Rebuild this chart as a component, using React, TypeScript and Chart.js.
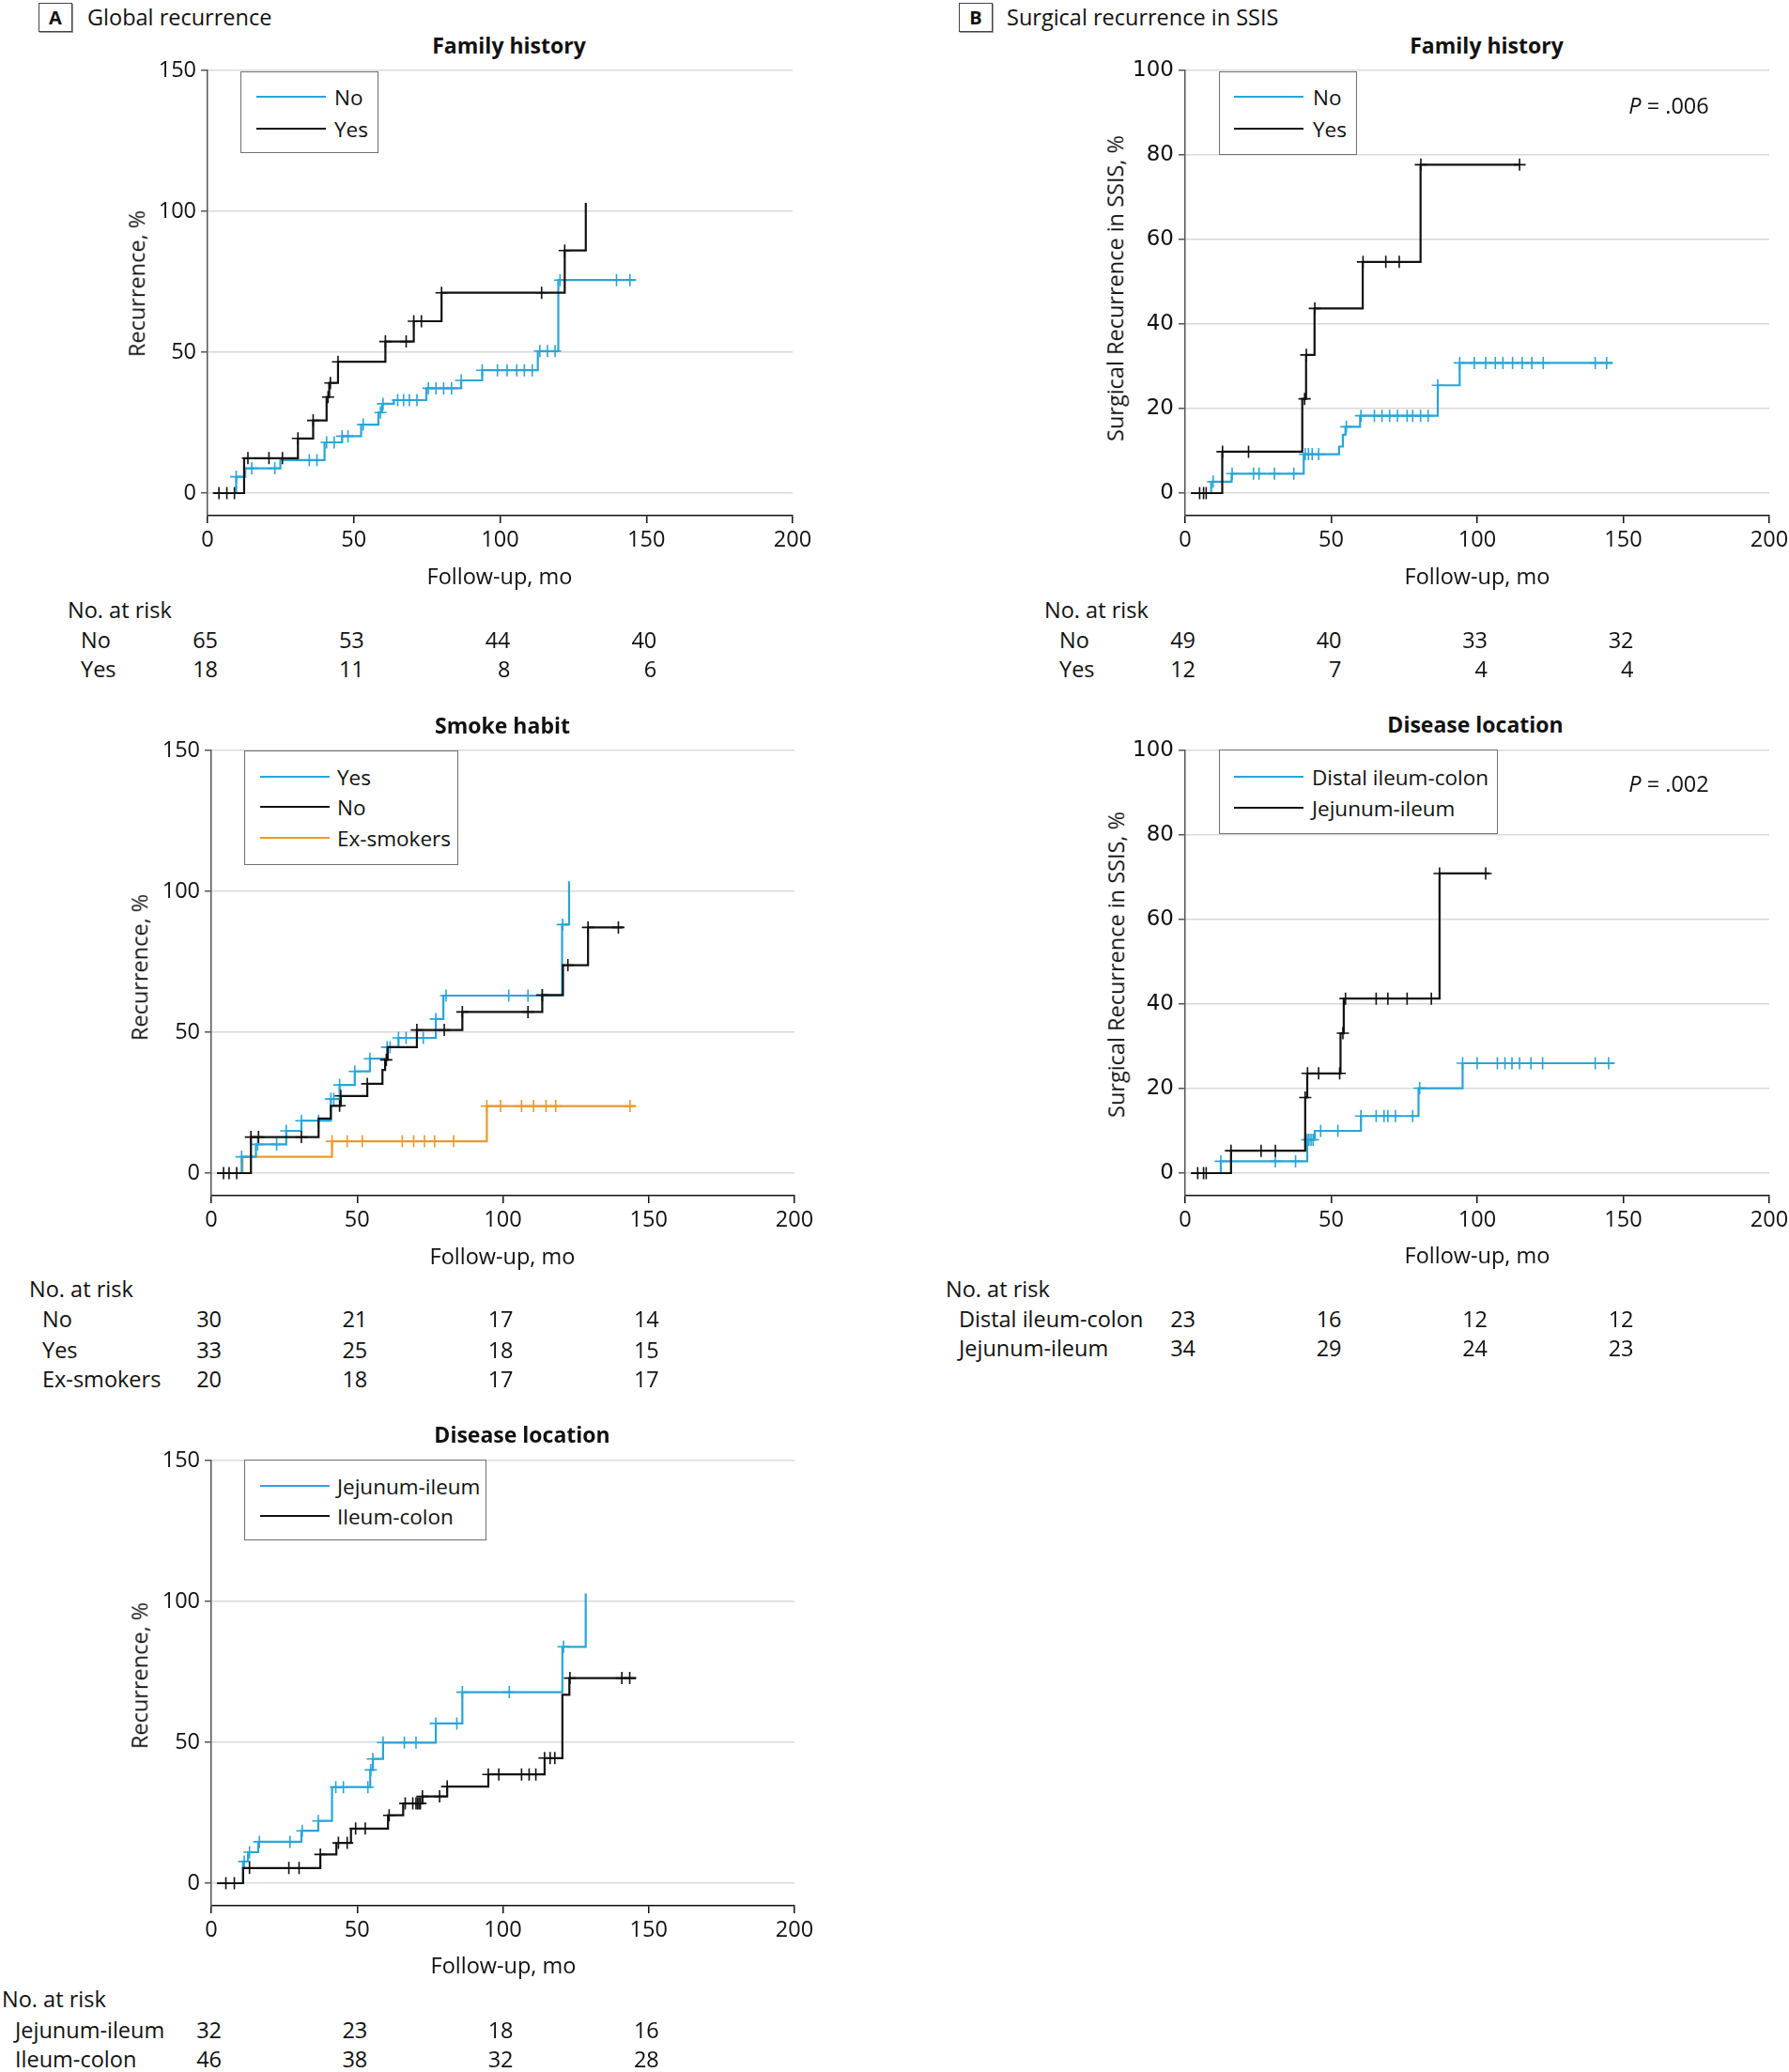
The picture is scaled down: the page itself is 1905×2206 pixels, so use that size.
import React, { useEffect, useRef } from "react";
import { Chart, registerables } from "chart.js";

Chart.register(...registerables);

const FONT = "'Open Sans', 'Noto Sans', 'DejaVu Sans', sans-serif";
const FONT_B_TICK = "'DejaVu Sans', 'Open Sans', sans-serif";
const TXT = "#111111";
const BLUE = "#29a5d8";
const BLACK = "#111111";
const ORANGE = "#e99a2c";

// ---------- shared ticks ----------
const xTicks = [0, 50, 100, 150, 200];
const yTicksGlobal = [0, 50, 100, 150];
const yTicksSurgical = [0, 20, 40, 60, 80, 100];
const riskTimes = [0, 50, 100, 150];

// ---------- A1: Global recurrence, Family history ----------
const a1NoX = [2, 9.8, 12.9, 24.9, 40, 46, 52.5, 58.4, 59.7, 63.7, 74.8, 86.7, 93.9, 112.9, 119.9, 146.4];
const a1NoY = [0, 5.8, 8.8, 11.7, 18, 20.2, 24.3, 28.6, 31.7, 33, 37.2, 40, 43.6, 50.4, 75.6, 75.6];
const a1NoCens = [9.8, 15.1, 23, 34.8, 37.4, 40.7, 43.3, 46, 48, 53.2, 59.1, 60, 65, 67, 69, 71.6, 75.5, 78.1, 80.7, 83.4, 86.7, 93.9, 99.1, 102.4, 105.7, 108.3, 111, 113.6, 116.2, 118.8, 120.5, 139.8, 144.4];
const a1YesX = [2, 12.5, 30.9, 36.1, 40.7, 41.6, 44.6, 60.8, 70.5, 80, 122.1, 129.3];
const a1YesY = [0, 12.4, 19.4, 25.8, 34.1, 39.1, 46.6, 53.8, 61, 71.1, 86.1, 103];
const a1YesCens = [3.9, 6.6, 9.2, 13.8, 21, 25.6, 30.9, 36.1, 41.2, 42, 44.6, 60.8, 67.9, 70.5, 73.1, 80, 114.2, 122.1];
const a1RiskLabels = ["No", "Yes"];
const a1RiskNo = [65, 53, 44, 40];
const a1RiskYes = [18, 11, 8, 6];

// ---------- B1: Surgical recurrence, Family history ----------
const b1NoX = [2, 8.9, 15.9, 40.6, 52.7, 54, 54.9, 59.9, 86.5, 94, 146.3];
const b1NoY = [0, 2.7, 4.6, 9.2, 11, 13.8, 15.7, 18.3, 25.5, 30.8, 30.8];
const b1NoCens = [9.6, 16.1, 23.4, 25.3, 30.6, 37.2, 41.1, 42.2, 43.5, 45.7, 55.2, 60.2, 64.8, 67.4, 70, 72.7, 76, 77.9, 80.6, 83.2, 86.5, 94, 99, 102.9, 106.2, 108.8, 112.1, 115.4, 118.7, 122.6, 140.4, 144.3];
const b1YesX = [2, 12.7, 40.1, 41.4, 44.3, 60.8, 80.6, 114.5];
const b1YesY = [0, 9.8, 22.3, 32.7, 43.7, 54.7, 77.7, 77.7];
const b1YesCens = [4.96, 6.3, 7.2, 12.8, 21.7, 40.9, 41.5, 44.4, 60.9, 68.7, 73.3, 80.7, 114.5];
const b1RiskLabels = ["No", "Yes"];
const b1RiskNo = [49, 40, 33, 32];
const b1RiskYes = [12, 7, 4, 4];

// ---------- A2: Global recurrence, Smoke habit ----------
const a2YesX = [2, 10.4, 15.3, 25.7, 30.9, 41, 44, 49.2, 54.4, 60.3, 64.2, 77, 79.6, 120.3, 122.7];
const a2YesY = [0, 5.8, 10.2, 15, 18.6, 26.3, 31.3, 36.1, 40.6, 44.7, 48, 54.7, 63, 88.2, 103.6];
const a2YesCens = [10.4, 15.9, 22.4, 25.7, 30.9, 36.8, 41, 42, 44, 49.2, 54.4, 60.3, 61.3, 64.2, 66.8, 72.7, 77, 80.5, 102, 108.6, 113.5, 120.5];
const a2NoX = [2, 13.6, 36.8, 41, 44.4, 53.5, 58.7, 59.6, 60.5, 70.5, 86.1, 113.5, 120.6, 129.2, 141.2];
const a2NoY = [0, 12.8, 19.4, 23.9, 27.4, 31.7, 36.6, 40.2, 44.7, 50.8, 57.2, 63.2, 73.8, 87.2, 87.2];
const a2NoCens = [4.2, 6.1, 8.7, 13.6, 16.2, 30.9, 44, 44.4, 53.5, 60, 70.5, 79.9, 86.1, 108.6, 113.5, 122.3, 129.2, 139.6];
const a2ExX = [2, 10.7, 41.4, 94.5, 145.4];
const a2ExY = [0, 5.8, 11.3, 23.8, 23.8];
const a2ExCens = [41.4, 46.6, 51.8, 65.5, 69.4, 73.1, 76.6, 83.1, 94.5, 99.2, 106.4, 110.5, 114.8, 118.1, 143.6];
const a2RiskLabels = ["No", "Yes", "Ex-smokers"];
const a2RiskNo = [30, 21, 17, 14];
const a2RiskYes = [33, 25, 18, 15];
const a2RiskEx = [20, 18, 17, 17];

// ---------- B2: Surgical recurrence, Disease location ----------
const b2DistX = [2, 12.2, 41.8, 44.4, 60.2, 79.9, 95, 147];
const b2DistY = [0, 2.8, 7.9, 10, 13.5, 20.1, 26, 26];
const b2DistCens = [12.2, 30.9, 37.8, 41.8, 42.4, 43.1, 43.8, 46.4, 52.3, 60.2, 65.4, 68.1, 69.4, 72, 77.9, 80.3, 95, 100, 106.9, 109.5, 111.9, 114.5, 118.4, 122.4, 140.4, 145];
const b2JejX = [2, 15.7, 41.1, 41.8, 53.2, 54.3, 87.1, 104.2];
const b2JejY = [0, 5.3, 17.9, 23.6, 33.1, 41.3, 70.9, 70.9];
const b2JejCens = [4.3, 6.3, 7.2, 15.7, 26, 30.9, 41.1, 41.9, 45.7, 52.9, 54, 54.9, 65.4, 69.4, 76, 84.3, 87.1, 102.9];
const b2RiskLabels = ["Distal ileum-colon", "Jejunum-ileum"];
const b2RiskDist = [23, 16, 12, 12];
const b2RiskJej = [34, 29, 24, 23];

// ---------- A3: Global recurrence, Disease location ----------
const a3JejX = [2, 10.9, 12.6, 16.1, 30.9, 36.7, 41.4, 54.5, 55.4, 58.9, 77, 86.1, 120.4, 128.4];
const a3JejY = [0, 7.7, 11, 14.7, 18.6, 22.1, 34.1, 40.2, 44.1, 49.9, 56.7, 67.8, 83.9, 102.8];
const a3JejCens = [11.3, 13.1, 16.5, 27, 31.2, 36.7, 42.7, 45.3, 53.7, 54.7, 55.4, 58.9, 66.2, 70.2, 77, 84.2, 86.1, 102.2, 120.8];
const a3IleX = [2, 10.9, 37.4, 42.9, 47.9, 60.6, 65.8, 72.4, 80.9, 95, 114.3, 120.4, 122.8, 145.7];
const a3IleY = [0, 5.4, 10.2, 14.3, 19.4, 24.1, 28.3, 30.8, 34.3, 38.6, 44.4, 66.9, 72.8, 72.8];
const a3IleCens = [5, 7.9, 13.1, 26.6, 30.1, 37.4, 43.6, 46.6, 49.5, 52.8, 61, 66.5, 69.1, 70.2, 70.7, 71.2, 71.7, 72.4, 78.3, 80.9, 95, 98.6, 106.4, 109, 111.3, 114.3, 116.2, 117.8, 123, 140.8, 143.5];
const a3RiskLabels = ["Jejunum-ileum", "Ileum-colon"];
const a3RiskJej = [32, 23, 18, 16];
const a3RiskIle = [46, 38, 32, 28];

// ---------- helpers ----------
type Series = { label: string; color: string; xs: number[]; ys: number[]; cens: number[] };
type Spec = {
  axisX: number; topY: number; axisY: number; rightX: number;
  yMin: number; yMax: number; yTicks: number[];
  tickFamily: string; tickSize: number; series: Series[];
};

function stepAt(xs: number[], ys: number[], t: number) {
  let v = ys[0];
  for (let i = 0; i < xs.length; i++) if (xs[i] <= t) v = ys[i];
  return v;
}

const specA1: Spec = {
  axisX: 221, topY: 75, axisY: 549, rightX: 844, yMin: -8, yMax: 150, yTicks: yTicksGlobal,
  tickFamily: FONT, tickSize: 23.5,
  series: [
    { label: "No", color: BLUE, xs: a1NoX, ys: a1NoY, cens: a1NoCens },
    { label: "Yes", color: BLACK, xs: a1YesX, ys: a1YesY, cens: a1YesCens },
  ],
};
const specB1: Spec = {
  axisX: 1262, topY: 75, axisY: 549, rightX: 1884, yMin: -5.33, yMax: 100, yTicks: yTicksSurgical,
  tickFamily: FONT_B_TICK, tickSize: 23,
  series: [
    { label: "No", color: BLUE, xs: b1NoX, ys: b1NoY, cens: b1NoCens },
    { label: "Yes", color: BLACK, xs: b1YesX, ys: b1YesY, cens: b1YesCens },
  ],
};
const specA2: Spec = {
  axisX: 225, topY: 799, axisY: 1273, rightX: 846, yMin: -8, yMax: 150, yTicks: yTicksGlobal,
  tickFamily: FONT, tickSize: 23.5,
  series: [
    { label: "Ex-smokers", color: ORANGE, xs: a2ExX, ys: a2ExY, cens: a2ExCens },
    { label: "Yes", color: BLUE, xs: a2YesX, ys: a2YesY, cens: a2YesCens },
    { label: "No", color: BLACK, xs: a2NoX, ys: a2NoY, cens: a2NoCens },
  ],
};
const specB2: Spec = {
  axisX: 1262, topY: 799, axisY: 1273, rightX: 1884, yMin: -5.33, yMax: 100, yTicks: yTicksSurgical,
  tickFamily: FONT_B_TICK, tickSize: 23,
  series: [
    { label: "Distal ileum-colon", color: BLUE, xs: b2DistX, ys: b2DistY, cens: b2DistCens },
    { label: "Jejunum-ileum", color: BLACK, xs: b2JejX, ys: b2JejY, cens: b2JejCens },
  ],
};
const specA3: Spec = {
  axisX: 225, topY: 1555, axisY: 2029, rightX: 846, yMin: -8, yMax: 150, yTicks: yTicksGlobal,
  tickFamily: FONT, tickSize: 23.5,
  series: [
    { label: "Jejunum-ileum", color: BLUE, xs: a3JejX, ys: a3JejY, cens: a3JejCens },
    { label: "Ileum-colon", color: BLACK, xs: a3IleX, ys: a3IleY, cens: a3IleCens },
  ],
};

const YW = 80, PT = 20, PR = 30, XH = 50;

function KMChart({ spec }: { spec: Spec }) {
  const ref = useRef<HTMLCanvasElement | null>(null);
  const w = YW + (spec.rightX - spec.axisX) + PR;
  const h = PT + (spec.axisY - spec.topY) + XH;
  useEffect(() => {
    const n = spec.series.length;
    const datasets: any[] = [];
    spec.series.forEach((s, i) => {
      datasets.push({
        label: s.label,
        data: s.xs.map((x, k) => ({ x, y: s.ys[k] })),
        borderColor: s.color,
        backgroundColor: s.color,
        borderWidth: 2.2,
        stepped: "before",
        pointRadius: 0,
        fill: false,
        order: (n - i) * 2,
      });
      datasets.push({
        label: s.label + " censored",
        data: s.cens.map((t) => ({ x: t, y: stepAt(s.xs, s.ys, t) })),
        showLine: false,
        pointStyle: "cross",
        pointRadius: 6.5,
        pointBorderWidth: 1.6,
        borderColor: s.color,
        backgroundColor: s.color,
        order: (n - i) * 2 - 1,
      });
    });
    const chart = new Chart(ref.current as HTMLCanvasElement, {
      type: "line",
      data: { datasets },
      options: {
        animation: false,
        responsive: false,
        maintainAspectRatio: false,
        layout: { padding: { top: PT, right: PR, left: 0, bottom: 0 } },
        plugins: { legend: { display: false }, tooltip: { enabled: false }, title: { display: false } },
        scales: {
          x: {
            type: "linear",
            min: 0,
            max: 200,
            afterBuildTicks: (s: any) => { s.ticks = xTicks.map((v) => ({ value: v })); },
            afterFit: (s: any) => { s.height = XH; },
            grid: { drawOnChartArea: false, drawTicks: true, tickLength: 8, color: "#111", tickColor: "#111", lineWidth: 1.5 },
            border: { display: true, color: "#111", width: 1.5 },
            ticks: { font: { family: FONT, size: 23.5 }, color: TXT, padding: 4, maxRotation: 0, autoSkip: false },
          },
          y: {
            type: "linear",
            min: spec.yMin,
            max: spec.yMax,
            afterBuildTicks: (s: any) => { s.ticks = spec.yTicks.map((v) => ({ value: v })); },
            afterFit: (s: any) => { s.width = YW; },
            grid: { color: "#d9d9d9", lineWidth: 1.5, drawTicks: true, tickLength: 7, tickColor: "#555" },
            border: { display: true, color: "#555", width: 1.5 },
            ticks: { font: { family: spec.tickFamily, size: spec.tickSize }, color: TXT, padding: 5 },
          },
        },
      } as any,
    });
    return () => chart.destroy();
  }, [spec]);
  return (
    <canvas
      ref={ref}
      width={w}
      height={h}
      style={{ position: "absolute", left: spec.axisX - YW, top: spec.topY - PT, width: w, height: h }}
    />
  );
}

function Txt({ x, cy, children, size = 23.5, weight = 400, align = "left", family = FONT }: any) {
  const lh = Math.round(size * 1.4);
  const tx = align === "center" ? "translateX(-50%)" : align === "right" ? "translateX(-100%)" : "none";
  return (
    <div
      style={{
        position: "absolute", left: x, top: cy - lh / 2, lineHeight: lh + "px", fontSize: size,
        fontWeight: weight, fontFamily: family, whiteSpace: "nowrap", transform: tx, color: TXT,
      }}
    >
      {children}
    </div>
  );
}

function YTitle({ cx, cy, text, size = 23.5 }: any) {
  return (
    <div
      style={{
        position: "absolute", left: cx, top: cy, fontSize: size, fontFamily: FONT, whiteSpace: "nowrap",
        transform: "translate(-50%, -50%) rotate(-90deg)", lineHeight: "1", color: TXT,
      }}
    >
      {text}
    </div>
  );
}

function PanelLabel({ x, y, letter }: any) {
  return (
    <div
      style={{
        position: "absolute", left: x, top: y, width: 36, height: 31, border: "1.5px solid #444",
        boxShadow: "1px 1px 0 #999", display: "flex", alignItems: "center", justifyContent: "center",
        fontFamily: FONT, fontWeight: 700, fontSize: 20, color: TXT, boxSizing: "border-box",
      }}
    >
      {letter}
    </div>
  );
}

function Legend({ x, y, w, h, items, rowYs, lineX1, lineX2, textX }: any) {
  return (
    <>
      <div
        style={{
          position: "absolute", left: x, top: y, width: w, height: h, border: "1.5px solid #707070",
          background: "#fff", boxSizing: "border-box",
        }}
      />
      {items.map((it: any, i: number) => (
        <React.Fragment key={i}>
          <div style={{ position: "absolute", left: lineX1, top: rowYs[i] - 1, width: lineX2 - lineX1, height: 2, background: it.color }} />
          <Txt x={textX} cy={rowYs[i]} size={22.5}>{it.label}</Txt>
        </React.Fragment>
      ))}
    </>
  );
}

function RiskTable({ spec, headX, headY, rowX, rowYs, labels, rows }: any) {
  const scale = (spec.rightX - spec.axisX) / 200;
  return (
    <>
      <Txt x={headX} cy={headY}>No. at risk</Txt>
      {labels.map((lab: string, i: number) => (
        <React.Fragment key={i}>
          <Txt x={rowX} cy={rowYs[i]}>{lab}</Txt>
          {riskTimes.map((t, j) => (
            <Txt key={j} x={spec.axisX + t * scale + 11} cy={rowYs[i]} align="right">{rows[i][j]}</Txt>
          ))}
        </React.Fragment>
      ))}
    </>
  );
}

function PText({ cx, cy, value }: any) {
  return (
    <Txt x={cx} cy={cy} align="center"><i>P</i> = {value}</Txt>
  );
}

export default function App() {
  return (
    <div style={{ position: "absolute", left: 0, top: 0, width: 1905, height: 2206, background: "#fff", fontFamily: FONT, color: TXT }}>
      {/* Panel headers */}
      <PanelLabel x={41} y={3} letter="A" />
      <Txt x={93} cy={18} size={23.5}>Global recurrence</Txt>
      <PanelLabel x={1021} y={3} letter="B" />
      <Txt x={1072} cy={18} size={23.5}>Surgical recurrence in SSIS</Txt>

      {/* A1 */}
      <Txt x={542} cy={48} size={23} weight={700} align="center">Family history</Txt>
      <KMChart spec={specA1} />
      <YTitle cx={146} cy={302} text="Recurrence, %" />
      <Txt x={532} cy={613} align="center">Follow-up, mo</Txt>
      <Legend x={256} y={76} w={147} h={87} items={[{ label: "No", color: BLUE }, { label: "Yes", color: BLACK }]}
        rowYs={[103, 137]} lineX1={273} lineX2={347} textX={356} />
      <RiskTable spec={specA1} headX={72} headY={649} rowX={86} rowYs={[681, 712]} labels={a1RiskLabels} rows={[a1RiskNo, a1RiskYes]} />

      {/* B1 */}
      <Txt x={1583} cy={48} size={23} weight={700} align="center">Family history</Txt>
      <KMChart spec={specB1} />
      <YTitle cx={1188} cy={307} text="Surgical Recurrence in SSIS, %" />
      <Txt x={1573} cy={613} align="center">Follow-up, mo</Txt>
      <Legend x={1298} y={76} w={147} h={89} items={[{ label: "No", color: BLUE }, { label: "Yes", color: BLACK }]}
        rowYs={[103, 137]} lineX1={1314} lineX2={1388} textX={1398} />
      <PText cx={1777} cy={112} value=".006" />
      <RiskTable spec={specB1} headX={1112} headY={649} rowX={1128} rowYs={[681, 712]} labels={b1RiskLabels} rows={[b1RiskNo, b1RiskYes]} />

      {/* A2 */}
      <Txt x={535} cy={772} size={23} weight={700} align="center">Smoke habit</Txt>
      <KMChart spec={specA2} />
      <YTitle cx={149} cy={1030} text="Recurrence, %" />
      <Txt x={535} cy={1337} align="center">Follow-up, mo</Txt>
      <Legend x={260} y={799} w={228} h={122}
        items={[{ label: "Yes", color: BLUE }, { label: "No", color: BLACK }, { label: "Ex-smokers", color: ORANGE }]}
        rowYs={[827, 859, 892]} lineX1={277} lineX2={351} textX={359} />
      <RiskTable spec={specA2} headX={31} headY={1372} rowX={45} rowYs={[1404, 1437, 1468]} labels={a2RiskLabels}
        rows={[a2RiskNo, a2RiskYes, a2RiskEx]} />

      {/* B2 */}
      <Txt x={1571} cy={771} size={23} weight={700} align="center">Disease location</Txt>
      <KMChart spec={specB2} />
      <YTitle cx={1189} cy={1027} text="Surgical Recurrence in SSIS, %" />
      <Txt x={1573} cy={1336} align="center">Follow-up, mo</Txt>
      <Legend x={1298} y={798} w={297} h={90}
        items={[{ label: "Distal ileum-colon", color: BLUE }, { label: "Jejunum-ileum", color: BLACK }]}
        rowYs={[827, 860]} lineX1={1314} lineX2={1388} textX={1397} />
      <PText cx={1777} cy={834} value=".002" />
      <RiskTable spec={specB2} headX={1007} headY={1372} rowX={1021} rowYs={[1404, 1435]} labels={b2RiskLabels}
        rows={[b2RiskDist, b2RiskJej]} />

      {/* A3 */}
      <Txt x={556} cy={1527} size={23} weight={700} align="center">Disease location</Txt>
      <KMChart spec={specA3} />
      <YTitle cx={149} cy={1784} text="Recurrence, %" />
      <Txt x={536} cy={2092} align="center">Follow-up, mo</Txt>
      <Legend x={260} y={1554} w={258} h={86}
        items={[{ label: "Jejunum-ileum", color: BLUE }, { label: "Ileum-colon", color: BLACK }]}
        rowYs={[1582, 1614]} lineX1={277} lineX2={351} textX={359} />
      <RiskTable spec={specA3} headX={2} headY={2128} rowX={16} rowYs={[2161, 2192]} labels={a3RiskLabels}
        rows={[a3RiskJej, a3RiskIle]} />
    </div>
  );
}
